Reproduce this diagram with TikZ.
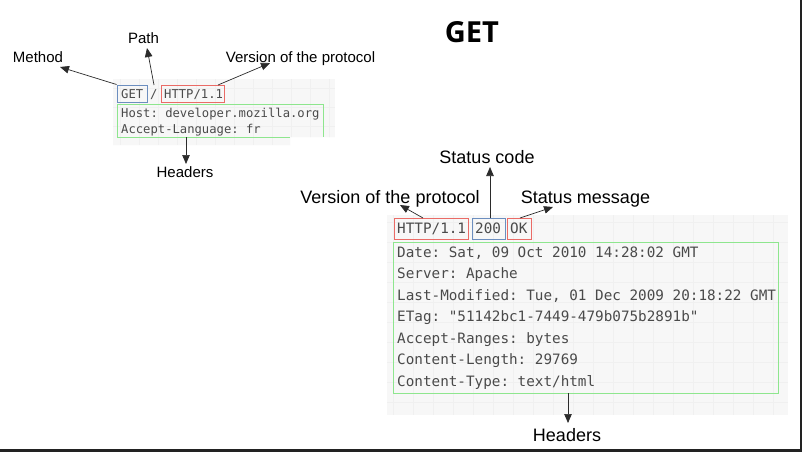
\documentclass[tikz,border=0pt]{standalone}
\usepackage{fontspec}
\setmainfont{Liberation Sans}
\newfontfamily\monofont{DejaVu Sans Mono}
\newfontfamily\titlefont{Open Sans}
\usetikzlibrary{arrows.meta,fit}
\definecolor{codegray}{HTML}{4A4A4A}
\definecolor{boxblue}{HTML}{6C8EBF}
\definecolor{boxred}{HTML}{EA6B66}
\definecolor{boxgreen}{HTML}{8EE68E}
\definecolor{panel}{HTML}{F7F7F7}
\definecolor{gridline}{HTML}{F0F0F0}
\definecolor{frame}{HTML}{222222}
\definecolor{ink}{HTML}{2B2B2B}
\frenchspacing
\begin{document}
\begin{tikzpicture}[x=1pt,y=-1pt,
  code/.style={font=\monofont\fontsize{12.2}{14}\selectfont, text=codegray, anchor=base west, inner sep=0},
  bigcode/.style={font=\monofont\fontsize{14.3}{16}\selectfont, text=codegray, anchor=base west, inner sep=0},
  hl/.style={draw=#1, line width=1pt, inner sep=0},
  lbl/.style={font=\fontsize{15}{18}\selectfont, anchor=base, inner sep=0},
  biglbl/.style={font=\fontsize{18}{21}\selectfont, anchor=base, inner sep=0},
  arr/.style={draw=ink, line width=0.7pt, -{Triangle[length=9pt,width=7.5pt]}},
  panelgrid/.style={draw=gridline, line width=0.4pt}
]
\useasboundingbox (0,0) rectangle (802,452);
\fill[white] (0,0) rectangle (802,452);
% window frame edges
\fill[frame] (799.5,0) rectangle (802,452);
\fill[frame] (0,449) rectangle (802,452);

% title
\node[font=\titlefont\bfseries\fontsize{29}{34}\selectfont, inner sep=0] (title) at (472,32) {GET};

% ---------- request panel ----------
\begin{scope}
  \clip (113,79) -- (335,79) -- (335,137) -- (290,137) -- (290,145) -- (113,145) -- cycle;
  \fill[panel] (113,79) rectangle (335,145);
  \foreach \gx in {120,139,...,335} \draw[panelgrid] (\gx,79) -- (\gx,145);
  \foreach \gy in {88,107,...,145} \draw[panelgrid] (113,\gy) -- (335,\gy);
\end{scope}

\node[code] (reqmethod) at (121,98) {GET};
\node[code] (reqslash) at (150,98) {/};
\node[code] (reqver) at (164,98) {HTTP/1.1};
\node[code] (reqhost) at (121,117) {Host: developer.mozilla.org};
\node[code] (reqlang) at (121,133) {Accept-Language: fr};

\node[hl=boxblue, fit={(117,85) (147,102)}] (getbox) {};
\node[hl=boxred, fit={(161,85) (224,102)}] (reqverbox) {};
\node[inner sep=0, fit={(117,104) (323,137)}] (reqhdrbox) {};
\draw[boxgreen, line width=1pt] (290,137) -- (117,137) -- (117,104) -- (323,104) -- (323,137);

\node[lbl] (methodlbl) at (38,63) {Method};
\node[lbl] (pathlbl) at (143.5,44) {Path};
\node[lbl] (reqverlbl) at (300.5,63) {Version of the protocol};
\node[lbl] (reqhdrlbl) at (185,177) {Headers};

\coordinate (methodtip) at (60,67);
\coordinate (pathfoot) at (154,85);
\coordinate (pathtip) at (147,48);
\coordinate (reqverfoot) at (218,85);
\coordinate (reqvertip) at (270,63);
\coordinate (reqhdrfoot) at (186,137);
\coordinate (reqhdrtip) at (186,164);

\draw[arr] (getbox.north west) -- (methodtip);
\draw[arr] (pathfoot) -- (pathtip);
\draw[arr] (reqverfoot) -- (reqvertip);
\draw[arr] (reqhdrfoot) -- (reqhdrtip);

% ---------- response panel ----------
\begin{scope}
  \clip (387,215) rectangle (788,415);
  \fill[panel] (387,215) rectangle (788,415);
  \foreach \gx in {393,413,...,788} \draw[panelgrid] (\gx,215) -- (\gx,415);
  \foreach \gy in {222,242,...,415} \draw[panelgrid] (387,\gy) -- (788,\gy);
\end{scope}

\node[bigcode] (resver) at (397,233) {HTTP/1.1};
\node[bigcode] (rescode) at (475,233) {200};
\node[bigcode] (resmsg) at (510,233) {OK};
\node[bigcode] (hdate) at (397,257) {Date: Sat, 09 Oct 2010 14:28:02 GMT};
\node[bigcode] (hserver) at (397,278) {Server: Apache};
\node[bigcode] (hlastmod) at (397,300) {Last-Modified: Tue, 01 Dec 2009 20:18:22 GMT};
\node[bigcode] (hetag) at (397,321) {ETag: "51142bc1-7449-479b075b2891b"};
\node[bigcode] (hranges) at (397,343) {Accept-Ranges: bytes};
\node[bigcode] (hlength) at (397,364) {Content-Length: 29769};
\node[bigcode] (htype) at (397,386) {Content-Type: text/html};

\node[hl=boxred, fit={(394,218) (468,239)}] (resverbox) {};
\node[hl=boxblue, fit={(472,218) (505,239)}] (rescodebox) {};
\node[hl=boxred, fit={(507.5,218) (531,239)}] (resmsgbox) {};
\node[hl=boxgreen, fit={(393,242) (778,393)}] (reshdrbox) {};

\node[biglbl] (codelbl) at (487,163) {Status code};
\node[biglbl] (resverlbl) at (390,203) {Version of the protocol};
\node[biglbl] (msglbl) at (585.5,203) {Status message};
\node[biglbl] (reshdrlbl) at (567,441) {Headers};

\coordinate (resverfoot) at (423,218);
\coordinate (resvertip) at (400,205);
\coordinate (codefoot) at (490,218);
\coordinate (codetip) at (490,167);
\coordinate (msgfoot) at (520,218);
\coordinate (msgtip) at (553,207);
\coordinate (reshdrfoot) at (568,393);
\coordinate (reshdrtip) at (568,423);

\draw[arr] (resverfoot) -- (resvertip);
\draw[arr] (codefoot) -- (codetip);
\draw[arr] (msgfoot) -- (msgtip);
\draw[arr] (reshdrfoot) -- (reshdrtip);
\end{tikzpicture}
\end{document}
